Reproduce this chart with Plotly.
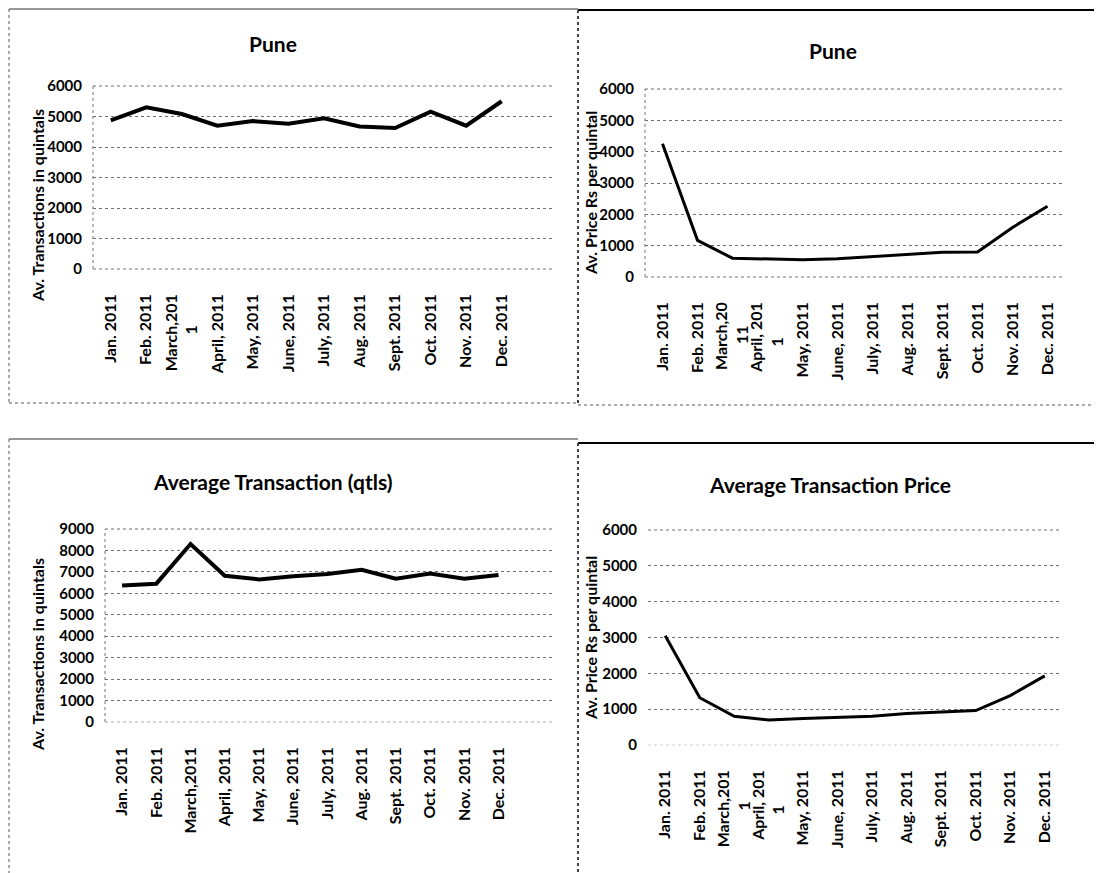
"""Four Excel-style line charts: Pune transactions/prices and averages, 2011."""

import plotly.graph_objects as go

W, H = 1102, 873
OFF = 8  # the page body margin pushes the figure 8px right and down

# ---- data -------------------------------------------------------------
months = ["Jan", "Feb", "Mar", "Apr", "May", "Jun",
          "Jul", "Aug", "Sep", "Oct", "Nov", "Dec"]

labels_pune_qty = ["Jan. 2011", "Feb. 2011", "March,201<br>1", "April, 2011",
                   "May, 2011", "June, 2011", "July, 2011", "Aug. 2011",
                   "Sept. 2011", "Oct. 2011", "Nov. 2011", "Dec. 2011"]
labels_pune_price = ["Jan. 2011", "Feb. 2011", "March,20<br>11", "April, 201<br>1",
                     "May, 2011", "June, 2011", "July, 2011", "Aug. 2011",
                     "Sept. 2011", "Oct. 2011", "Nov. 2011", "Dec. 2011"]
labels_avg_qty = ["Jan. 2011", "Feb. 2011", "March,2011", "April, 2011",
                  "May, 2011", "June, 2011", "July, 2011", "Aug. 2011",
                  "Sept. 2011", "Oct. 2011", "Nov. 2011", "Dec. 2011"]
labels_avg_price = ["Jan. 2011", "Feb. 2011", "March,201<br>1", "April, 201<br>1",
                    "May, 2011", "June, 2011", "July, 2011", "Aug. 2011",
                    "Sept. 2011", "Oct. 2011", "Nov. 2011", "Dec. 2011"]

pune_qty = [4870, 5300, 5080, 4700, 4850, 4760, 4940, 4670, 4620, 5160, 4700, 5500]
pune_price = [4250, 1170, 600, 580, 550, 580, 650, 740, 790, 800, 1580, 2260]
avg_qty = [6370, 6450, 8300, 6820, 6650, 6800, 6900, 7100, 6680, 6920, 6680, 6850]
avg_price = [3050, 1320, 800, 700, 740, 780, 800, 880, 920, 960, 1380, 1930]

QTY_TITLE = "Av. Transactions in quintals"
PRICE_TITLE = "Av. Price Rs per quintal"

FONT = "Lato, 'Open Sans', sans-serif"


def px(x):
    return (x - OFF) / W


def py(y):
    return 1 - (y - OFF) / H


def center_wrapped(label):
    """Excel centres wrapped tick text; plotly end-aligns it, so pad the tail."""
    lines = label.split("<br>")
    first = lines[0]
    out = [first]
    for line in lines[1:]:
        out.append(line + "\u00a0" * max(len(first) - len(line), 0))
    return "<br>".join(out)


PANELS = [
    dict(x=(93, 555), y=(86, 269), ymax=6000, xend=12.5, vals=pune_qty,
         labels=labels_pune_qty, lw=4, title="Pune", tpos=(273, 44),
         ytitle=QTY_TITLE, ypos=(38, 206), frame=True, zero="#777777"),
    dict(x=(645, 1065), y=(89, 277), ymax=6000, xend=11.5, vals=pune_price,
         labels=labels_pune_price, lw=3, title="Pune", tpos=(833, 50),
         ytitle=PRICE_TITLE, ypos=(590, 193), frame=True, zero="#777777"),
    dict(x=(105, 555), y=(529, 722), ymax=9000, xend=12.65, vals=avg_qty,
         labels=labels_avg_qty, lw=4, title="Average Transaction (qtls)",
         tpos=(272, 482), ytitle=QTY_TITLE, ypos=(37, 655), frame=True,
         zero="#aaaaaa"),
    dict(x=(648, 1062), y=(530, 745), ymax=6000, xend=11.5, vals=avg_price,
         labels=labels_avg_price, lw=3, title="Average Transaction Price",
         tpos=(830, 485), ytitle=PRICE_TITLE, ypos=(590, 638), frame=False,
         zero="#d0d0d0"),
]

fig = go.Figure()
layout = {}
annotations = []
shapes = []

for i, p in enumerate(PANELS, start=1):
    suffix = "" if i == 1 else str(i)
    fig.add_trace(go.Scatter(
        x=months, y=p["vals"], mode="lines",
        line=dict(color="black", width=p["lw"]),
        xaxis=f"x{suffix}", yaxis=f"y{suffix}",
        showlegend=False,
        hovertemplate="%{x}: %{y}<extra></extra>",
    ))
    layout[f"xaxis{suffix}"] = dict(
        domain=[px(p["x"][0]), px(p["x"][1])],
        anchor=f"y{suffix}",
        type="category",
        range=[-0.5, p["xend"]],
        tickmode="array", tickvals=months,
        ticktext=[center_wrapped(t) for t in p["labels"]],
        tickangle=-90,
        tickfont=dict(family=FONT, size=16, color="black", weight="bold"),
        ticklabelstandoff=21,
        showgrid=False, showline=False, ticks="", automargin=False,
    )
    layout[f"yaxis{suffix}"] = dict(
        domain=[py(p["y"][1]), py(p["y"][0])],
        anchor=f"x{suffix}",
        range=[0, p["ymax"]], dtick=1000,
        tickfont=dict(family=FONT, size=15, color="black", weight="bold"),
        ticklabelstandoff=10,
        showgrid=True, gridcolor="#6f6f6f", griddash="dot", gridwidth=1,
        zeroline=False, showline=False, ticks="", automargin=False,
    )
    annotations.append(dict(
        text=p["title"], x=px(p["tpos"][0]), y=py(p["tpos"][1]),
        xref="paper", yref="paper", showarrow=False,
        xanchor="center", yanchor="middle",
        font=dict(family=FONT, size=21, color="black", weight="bold"),
    ))
    annotations.append(dict(
        text=p["ytitle"], x=px(p["ypos"][0]), y=py(p["ypos"][1]),
        xref="paper", yref="paper", showarrow=False, textangle=-90,
        xanchor="center", yanchor="middle",
        font=dict(family=FONT, size=16, color="black", weight="bold"),
    ))
    # gridlines at the range ends (plotly skips them), drawn like the rest
    dom = dict(xref=f"x{suffix} domain", yref=f"y{suffix} domain", layer="below")
    shapes.append(dict(type="line", x0=0, x1=1, y0=1, y1=1,
                       line=dict(color="#6f6f6f", width=1, dash="dot"), **dom))
    shapes.append(dict(type="line", x0=0, x1=1, y0=0, y1=0,
                       line=dict(color=p["zero"], width=1, dash="dot"), **dom))
    if p["frame"]:
        # dotted left edge of the plot area
        shapes.append(dict(type="line", x0=0, x1=0, y0=0, y1=1,
                           line=dict(color="#777777", width=1, dash="dot"), **dom))

# chart-object borders (scanned page look)
border = dict(color="#333333", width=1)
dotted = dict(color="#555555", width=1, dash="dot")
frame = [
    # top-left chart
    dict(type="line", x0=px(9), x1=px(578), y0=py(9), y1=py(9), line=border),
    dict(type="line", x0=px(9), x1=px(9), y0=py(9), y1=py(403), line=dotted),
    dict(type="line", x0=px(9), x1=px(578), y0=py(403), y1=py(403), line=dotted),
    # top-right chart
    dict(type="line", x0=px(578), x1=px(1110), y0=py(10), y1=py(10),
         line=dict(color="black", width=2)),
    dict(type="line", x0=px(578), x1=px(578), y0=py(10), y1=py(405),
         line=dict(color="#444444", width=2, dash="dot")),
    dict(type="line", x0=px(578), x1=px(1110), y0=py(405), y1=py(405), line=dotted),
    # bottom-left chart
    dict(type="line", x0=px(9), x1=px(578), y0=py(439), y1=py(439), line=border),
    dict(type="line", x0=px(9), x1=px(9), y0=py(439), y1=py(880), line=dotted),
    # bottom-right chart
    dict(type="line", x0=px(578), x1=px(1110), y0=py(443), y1=py(443),
         line=dict(color="black", width=2)),
    dict(type="line", x0=px(578), x1=px(578), y0=py(443), y1=py(880),
         line=dict(color="#444444", width=2, dash="dot")),
]
for s in frame:
    s.update(xref="paper", yref="paper", layer="below")
shapes.extend(frame)

fig.update_layout(
    **layout,
    template="none",
    width=W, height=H,
    margin=dict(l=0, r=0, t=0, b=0, autoexpand=False),
    paper_bgcolor="white", plot_bgcolor="white",
    annotations=annotations,
    shapes=shapes,
    showlegend=False,
)

fig.write_html("out.html")
